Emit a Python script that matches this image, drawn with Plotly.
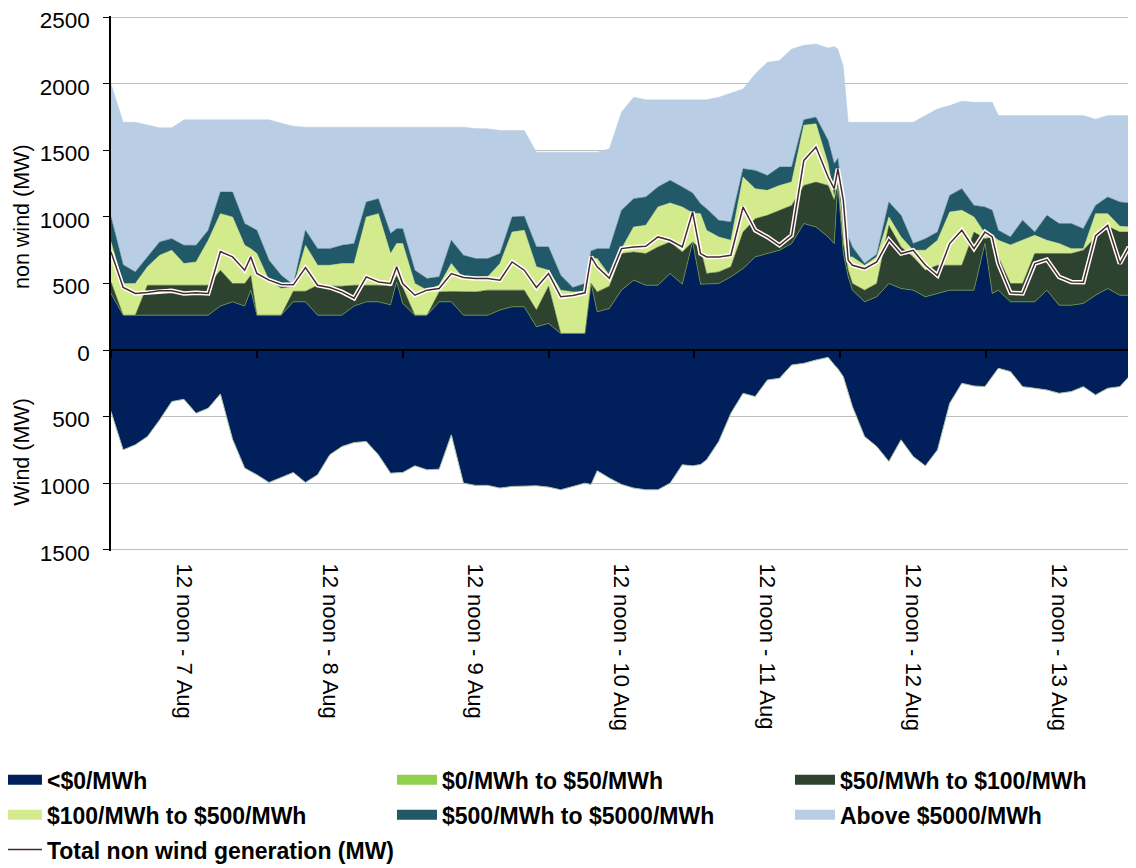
import plotly.graph_objects as go

# ---- data (MW), time in hours from midnight 7 Aug ----
hours = [0, 2, 4, 6, 8, 10, 12, 14, 16, 18, 20, 22, 23,
         24, 26, 28, 30, 32, 34, 36, 38, 40, 42, 44, 46, 47,
         48, 50, 52, 54, 56, 58, 60, 62, 64, 66, 68, 70, 72, 74, 76, 78, 79,
         80, 82, 84, 86, 88, 90, 92, 94, 95.7, 97,
         98, 100, 102, 104, 106, 108, 110, 112, 114, 116, 118, 119, 119.6, 120.5, 121.3,
         122, 124, 126, 128, 130, 132, 134, 136, 138, 140, 142, 143.8, 145,
         146, 148, 150, 152, 154, 156, 158, 160, 162, 164, 166, 167.5]

below_0 = [425, 262, 262, 262, 262, 262, 262, 262, 262, 330, 362, 330, 450,
           262, 262, 262, 362, 362, 262, 262, 262, 330, 362, 362, 340, 512,
           350, 262, 262, 362, 362, 262, 262, 262, 300, 325, 325, 175, 200, 125, 125, 125, 500,
           287, 312, 450, 525, 487, 487, 575, 495, 812, 495,
           495, 500, 550, 612, 700, 725, 750, 800, 950, 925, 850, 800, 1250, 725, 550,
           450, 362, 400, 500, 462, 450, 400, 425, 450, 450, 450, 800, 425,
           450, 362, 362, 362, 450, 337, 337, 350, 412, 462, 412, 412]

from_0_to_50 = [0, 0, 0, 0, 0, 0, 0, 0, 0, 0, 0, 0, 0,
                0, 0, 0, 0, 0, 0, 0, 0, 0, 0, 0, 0, 0,
                0, 0, 0, 0, 0, 0, 0, 0, 0, 0, 0, 0, 0, 0, 0, 0, 0,
                0, 0, 0, 0, 0, 0, 0, 0, 0, 0,
                0, 0, 0, 0, 0, 0, 0, 0, 0, 0, 0, 0, 0, 0, 0,
                0, 0, 0, 0, 0, 0, 0, 0, 0, 0, 0, 0, 0,
                0, 0, 0, 0, 0, 0, 0, 0, 0, 0, 0, 0]

from_50_to_100 = [87, 0, 0, 225, 225, 225, 225, 225, 225, 270, 138, 170, 110,
                  0, 0, 0, 80, 80, 225, 218, 218, 157, 125, 125, 140, 48,
                  120, 0, 0, 75, 78, 175, 175, 188, 150, 125, 125, 125, 280, 0, 0, 0, 0,
                  150, 168, 275, 212, 238, 288, 237, 242, 0, 267,
                  80, 87, 75, 275, 287, 287, 300, 287, 287, 337, 387, 325, 10, 75, 50,
                  50, 88, 100, 437, 313, 250, 200, 212, 187, 187, 437, 37, 425,
                  250, 138, 138, 363, 275, 388, 388, 400, 438, 468, 475, 475]

from_100_to_500 = [300, 238, 238, 138, 225, 263, 163, 175, 338, 425, 500, 287, 202,
                   463, 263, 200, 33, 345, 150, 157, 170, 163, 513, 538, 245, 240,
                   330, 238, 188, 50, 210, 100, 100, 100, 200, 437, 450, 325, 120, 325, 312, 315, 187,
                   250, 82, 37, 188, 212, 300, 293, 338, 218, 263,
                   325, 263, 200, 413, 225, 188, 187, 175, 453, 438, 163, 25, 20, 100, 100,
                   200, 187, 200, 63, 75, 50, 150, 188, 400, 413, 113, 38, 10,
                   125, 290, 325, 137, 100, 75, 37, 12, 175, 95, 43, 38]

from_500_to_5000 = [188, 140, 87, 75, 100, 87, 137, 125, 75, 162, 187, 163, 163,
                    175, 150, 100, 15, 113, 125, 125, 137, 150, 112, 112, 150, 112,
                    112, 100, 87, 63, 175, 175, 150, 137, 75, 113, 105, 150, 175, 112, 33, 60, 58,
                    75, 200, 288, 212, 213, 150, 170, 150, 150, 75,
                    162, 125, 137, 62, 138, 112, 138, 113, 40, 50, 175, 250, 160, 200, 150,
                    75, 13, 20, 112, 162, 50, 87, 62, 125, 162, 87, 200, 190,
                    75, 60, 150, 25, 187, 150, 188, 150, 62, 125, 182, 180]

above_5000 = [1000, 1072, 1125, 990, 858, 833, 943, 943, 830, 543, 543, 780, 805,
              830, 1055, 1143, 1192, 775, 913, 913, 888, 875, 563, 538, 800, 763,
              763, 1075, 1138, 1125, 850, 963, 978, 975, 925, 650, 645, 712, 712, 925, 1017, 987, 742,
              725, 750, 737, 763, 730, 655, 605, 655, 700, 780,
              818, 925, 968, 600, 725, 850, 800, 887, 560, 550, 695, 880, 822, 1030, 862,
              937, 1062, 992, 600, 700, 912, 925, 925, 675, 658, 775, 787, 812,
              862, 912, 787, 875, 750, 812, 812, 850, 648, 612, 650, 657]

total_non_wind = [737, 470, 425, 432, 445, 445, 425, 430, 425, 740, 700, 600, 700,
                  575, 525, 492, 490, 620, 487, 470, 437, 390, 550, 512, 500, 625,
                  500, 412, 450, 462, 575, 545, 537, 537, 525, 662, 600, 470, 575, 400, 410, 430, 700,
                  625, 540, 762, 775, 780, 850, 825, 775, 1037, 725,
                  700, 700, 712, 1075, 900, 850, 787, 862, 1425, 1525, 1300, 1212, 1362, 1125, 675,
                  637, 612, 662, 830, 725, 750, 637, 560, 800, 900, 762, 887, 850,
                  650, 430, 425, 650, 680, 550, 512, 510, 860, 937, 650, 775]

wind = [462, 750, 712, 650, 525, 387, 370, 475, 437, 330, 670, 887, 912,
        937, 995, 955, 920, 995, 937, 787, 725, 695, 687, 787, 925, 922,
        920, 870, 900, 895, 637, 1000, 1017, 1017, 1037, 1025, 1025, 1020, 1030, 1050, 1025, 1000, 1010,
        907, 962, 1010, 1037, 1050, 1050, 1000, 862, 870, 860,
        825, 687, 475, 325, 350, 225, 212, 112, 100, 75, 55, 110, 140, 200, 320,
        425, 650, 725, 837, 675, 800, 870, 750, 400, 250, 270, 275, 200,
        137, 162, 275, 287, 300, 325, 312, 275, 337, 287, 275, 200]

noon_hours = [12, 36, 60, 84, 108, 132, 156]
day_labels = ["12 noon - 7 Aug", "12 noon - 8 Aug", "12 noon - 9 Aug", "12 noon - 10 Aug",
              "12 noon - 11 Aug", "12 noon - 12 Aug", "12 noon - 13 Aug"]
midnight_hours = [0, 24, 48, 72, 96, 120, 144, 168]
y_tick_vals = [-1500, -1000, -500, 0, 500, 1000, 1500, 2000, 2500]
y_tick_text = ["1500", "1000", "500", "0", "500", "1000", "1500", "2000", "2500"]
y_range = [-1510, 2510]   # tiny pad so the 2500 / -1500 gridlines are drawn

# ---- styling ----
FONT = "Liberation Sans, Arial, sans-serif"
NAVY = "#001F5B"
BROWN = "#4A2A28"
bands = [
    ("<$0/MWh", below_0, NAVY, "legend"),
    ("$0/MWh to $50/MWh", from_0_to_50, "#92D050", "legend2"),
    ("$50/MWh to $100/MWh", from_50_to_100, "#2D422F", "legend3"),
    ("$100/MWh to $500/MWh", from_100_to_500, "#D3EA8D", "legend"),
    ("$500/MWh to $5000/MWh", from_500_to_5000, "#215968", "legend2"),
    ("Above $5000/MWh", above_5000, "#B9CDE5", "legend3"),
]

fig = go.Figure()
for name, vals, col, _ in bands:
    fig.add_trace(go.Scatter(x=hours, y=vals, stackgroup="pos", mode="lines",
                             line=dict(width=0.5, color=col), fillcolor=col,
                             name=name, showlegend=False, hoverinfo="skip"))

# wind drawn downward, on the right-hand (mirror) axis which has the same scale
fig.add_trace(go.Scatter(x=hours, y=[-w for w in wind], mode="lines", fill="tozeroy",
                         line=dict(width=1, color="#A9C2A4"), fillcolor=NAVY,
                         yaxis="y2", showlegend=False, hoverinfo="skip"))

fig.add_trace(go.Scatter(x=hours, y=total_non_wind, mode="lines",
                         line=dict(color="white", width=4.5), showlegend=False, hoverinfo="skip"))
fig.add_trace(go.Scatter(x=hours, y=total_non_wind, mode="lines",
                         line=dict(color=BROWN, width=1.5), legendgroup="total",
                         name="Total non wind generation (MW)", legend="legend", legendrank=100))

for i, (name, vals, col, leg) in enumerate(bands):
    fig.add_trace(go.Scatter(x=[None], y=[None], mode="lines", line=dict(color=col, width=12),
                             name=name, legend=leg, legendrank=i + 1, legendgroup=name))

leg_common = dict(orientation="v", xanchor="left", yanchor="top", bgcolor="rgba(0,0,0,0)",
                  font=dict(family=FONT, size=23, color="black", weight="bold"),
                  itemwidth=40, traceorder="grouped", tracegroupgap=2)
LEG_Y = -0.3875

# the page body has an 8px margin, so the figure is sized to the visible area
fig.update_layout(
    width=1128, height=860,
    margin=dict(l=103, r=4, t=7.7, b=316.6, autoexpand=False),
    paper_bgcolor="white", plot_bgcolor="white",
    font=dict(family=FONT, size=22, color="black"),
    xaxis=dict(range=[0, 168], anchor="free", position=0.3756,
               tickvals=noon_hours, ticktext=day_labels, tickangle=90, ticks="",
               ticklabelstandoff=208, tickfont=dict(size=22),
               minor=dict(tickvals=midnight_hours, ticks="outside", ticklen=7,
                          tickwidth=1.5, tickcolor="black", showgrid=False),
               showgrid=False, showline=True, linecolor="black", linewidth=2,
               zeroline=False, automargin=False),
    yaxis=dict(range=y_range, tickvals=y_tick_vals, ticktext=y_tick_text,
               ticks="outside", ticklen=6, tickcolor="black", showline=True,
               linecolor="black", linewidth=1.5, showgrid=True, gridcolor="#BFBFBF",
               gridwidth=1, zeroline=False, tickfont=dict(size=22.5), ticklabelstandoff=9,
               ticklabelshift=3, ticklabeloverflow="allow", automargin=False),
    yaxis2=dict(overlaying="y", side="right", range=y_range, tickvals=y_tick_vals,
                ticks="outside", ticklen=5, tickcolor="#888888", showline=True,
                linecolor="#999999", showticklabels=False, showgrid=False, zeroline=False,
                automargin=False),
    legend=dict(x=-0.1117, y=LEG_Y, **leg_common),
    legend2=dict(x=0.2752, y=LEG_Y, **leg_common),
    legend3=dict(x=0.665, y=LEG_Y, **leg_common),
    annotations=[
        dict(text="non wind (MW)", x=-0.0872, y=0.6261, xref="paper", yref="paper",
             xanchor="center", yanchor="middle",
             textangle=-90, showarrow=False, font=dict(size=21.5)),
        dict(text="Wind (MW)", x=-0.0872, y=0.1856, xref="paper", yref="paper",
             xanchor="center", yanchor="middle",
             textangle=-90, showarrow=False, font=dict(size=21.5)),
    ],
)

fig.write_html("out.html")
